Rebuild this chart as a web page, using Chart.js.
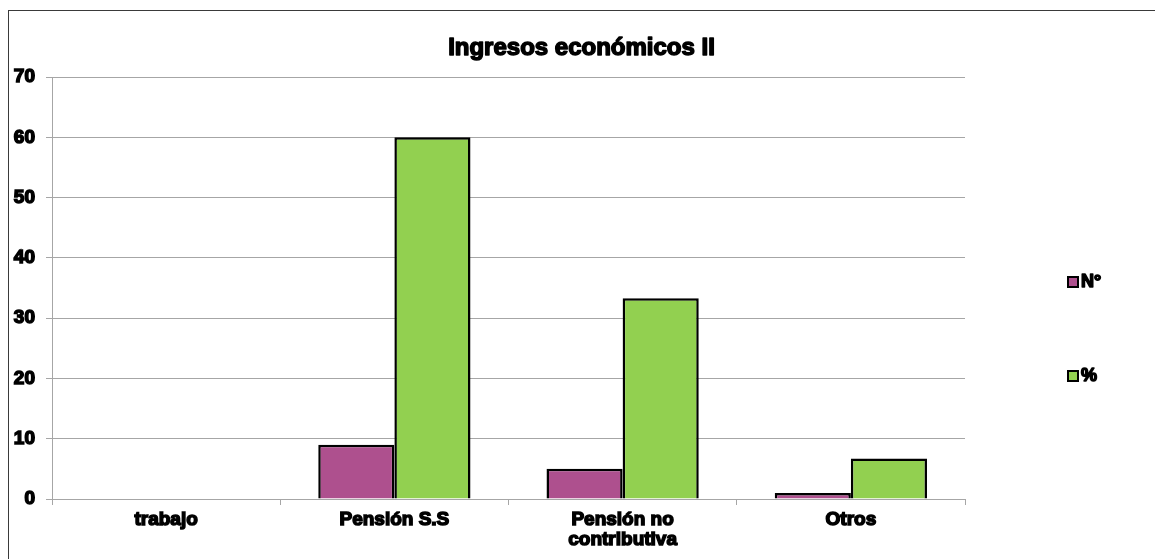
<!DOCTYPE html>
<html>
<head>
<meta charset="utf-8">
<script src="https://cdn.jsdelivr.net/npm/chart.js"></script>
<style>
  body { margin: 0; background: #fff; }
  #wrap { position: relative; width: 1155px; height: 559px; overflow: hidden; }
  #frame { position: absolute; left: 8px; top: 10px; width: 1200px; height: 600px; border: 1px solid #3a3a3a; pointer-events: none; }
  canvas { position: absolute; left: 0; top: 0; }
</style>
</head>
<body>
<div id="wrap">
  <canvas id="chart" width="1155" height="559"></canvas>
  <div id="frame"></div>
</div>
<script>
  // chart data
  const chartTitle = "Ingresos económicos II";
  const categories = ["trabajo", "Pensión S.S", ["Pensión no", "contributiva"], "Otros"];
  const numValues = [0, 9, 5, 1];
  const pctValues = [0, 60, 33.3, 6.7];
  const yTicks = [0, 10, 20, 30, 40, 50, 60, 70];

  const purple = "#ae508e";
  const green = "#92d050";
  const fontFamily = "'Liberation Sans', Arial, sans-serif";

  // heavy text helper: fill plus a thin stroke to thicken the glyphs
  function heavyText(ctx, text, x, y, size, strokeW) {
    ctx.font = "bold " + size + "px " + fontFamily;
    ctx.fillStyle = "#000";
    ctx.strokeStyle = "#000";
    ctx.lineWidth = strokeW;
    ctx.lineJoin = "round";
    ctx.fillText(text, x, y);
    ctx.strokeText(text, x, y);
  }

  // title centred across the framed area, legend stacked on the right
  const decorations = {
    id: "decorations",
    afterDraw(chart) {
      const ctx = chart.ctx;
      const area = chart.chartArea;
      ctx.save();
      ctx.textAlign = "center";
      ctx.textBaseline = "middle";
      heavyText(ctx, chartTitle, (8 + chart.width) / 2, area.top - 29, 24, 1.5);
      ctx.restore();

      const x = area.right + 103;
      const rows = [area.top + 205, area.top + 299];
      chart.data.datasets.forEach((ds, i) => {
        const y = rows[i];
        ctx.save();
        ctx.fillStyle = ds.backgroundColor;
        ctx.fillRect(x, y - 5, 10, 10);
        ctx.lineWidth = 2;
        ctx.strokeStyle = "#000";
        ctx.strokeRect(x, y - 5, 10, 10);
        ctx.textAlign = "left";
        ctx.textBaseline = "middle";
        heavyText(ctx, ds.label, x + 13, y, 18, 1.5);
        ctx.restore();
      });
    }
  };

  new Chart(document.getElementById("chart"), {
    type: "bar",
    data: {
      labels: categories,
      datasets: [
        { label: "N°", data: numValues, backgroundColor: purple, borderColor: "#000", borderWidth: 2.5 },
        { label: "%", data: pctValues, backgroundColor: green, borderColor: "#000", borderWidth: 2.5 }
      ]
    },
    options: {
      responsive: false,
      animation: false,
      devicePixelRatio: 1,
      layout: { padding: { left: 8, right: 190, top: 77, bottom: 0 } },
      categoryPercentage: 0.667,
      barPercentage: 1,
      plugins: {
        legend: { display: false },
        tooltip: { enabled: false },
        title: { display: false }
      },
      scales: {
        x: {
          afterFit: s => { s.height = 60; },
          border: { color: "#a6a6a6", width: 1 },
          grid: { drawOnChartArea: false, drawTicks: true, tickLength: 6, color: "#a6a6a6", offset: true },
          ticks: {
            color: "#000",
            padding: 5,
            font: { family: fontFamily, size: 19, weight: "bold", lineHeight: 1.05 },
            textStrokeColor: "#000",
            textStrokeWidth: 1.5,
            maxRotation: 0
          }
        },
        y: {
          min: 0,
          max: 70,
          afterFit: s => { s.width = 44; },
          afterBuildTicks: s => { s.ticks = yTicks.map(v => ({ value: v })); },
          border: { color: "#a6a6a6", width: 1 },
          grid: { color: "#a6a6a6", lineWidth: 1, tickLength: 6 },
          ticks: {
            color: "#000",
            padding: 11,
            font: { family: fontFamily, size: 19, weight: "bold" },
            textStrokeColor: "#000",
            textStrokeWidth: 1.5
          }
        }
      }
    },
    plugins: [decorations]
  });
</script>
</body>
</html>
